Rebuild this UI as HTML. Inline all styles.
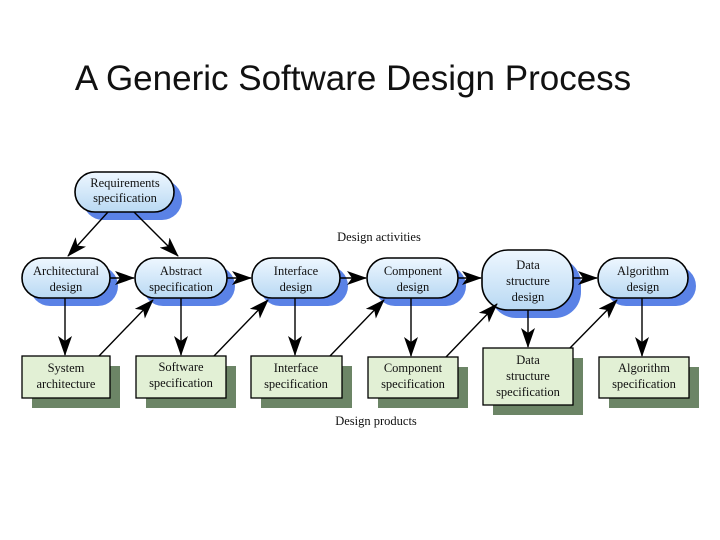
<!DOCTYPE html>
<html><head><meta charset="utf-8"><style>
html,body{margin:0;padding:0;background:#fff;width:720px;height:540px;overflow:hidden}
svg{display:block}
.t{font-family:"Liberation Serif",serif;font-size:12.5px;fill:#111;text-anchor:middle}
</style></head><body>
<svg width="720" height="540" viewBox="0 0 720 540" xmlns="http://www.w3.org/2000/svg">
<defs>
<linearGradient id="bg" x1="0" y1="0" x2="0" y2="1"><stop offset="0" stop-color="#eef7ff"/><stop offset="1" stop-color="#b9d9f3"/></linearGradient>
<marker id="A" markerWidth="20" markerHeight="14" refX="19" refY="7" orient="auto" markerUnits="userSpaceOnUse" viewBox="0 0 20 14"><path d="M0,0 L20,7 L0,14 L5,7 z" fill="#000"/></marker>
</defs>
<text x="353" y="90" font-family="Liberation Sans,sans-serif" font-size="35" text-anchor="middle" fill="#111">A Generic Software Design Process</text>

<g fill="#5a82e6">
<rect x="83" y="180" width="99" height="40" rx="20"/>
<rect x="30" y="266" width="88" height="40" rx="20"/>
<rect x="143" y="266" width="92" height="40" rx="20"/>
<rect x="260" y="266" width="88" height="40" rx="20"/>
<rect x="375" y="266" width="91" height="40" rx="20"/>
<rect x="490" y="258" width="91" height="60" rx="26"/>
<rect x="606" y="266" width="90" height="40" rx="20"/>
</g>
<g fill="url(#bg)" stroke="#000" stroke-width="1.6">
<rect x="75" y="172" width="99" height="40" rx="20"/>
<rect x="22" y="258" width="88" height="40" rx="20"/>
<rect x="135" y="258" width="92" height="40" rx="20"/>
<rect x="252" y="258" width="88" height="40" rx="20"/>
<rect x="367" y="258" width="91" height="40" rx="20"/>
<rect x="482" y="250" width="91" height="60" rx="26"/>
<rect x="598" y="258" width="90" height="40" rx="20"/>
</g>
<g fill="#6c8566">
<rect x="32" y="366" width="88" height="42"/>
<rect x="146" y="366" width="90" height="42"/>
<rect x="261" y="366" width="91" height="42"/>
<rect x="378" y="367" width="90" height="41"/>
<rect x="493" y="358" width="90" height="57"/>
<rect x="609" y="367" width="90" height="41"/>
</g>
<g fill="#e2f0d5" stroke="#000" stroke-width="1.3">
<rect x="22" y="356" width="88" height="42"/>
<rect x="136" y="356" width="90" height="42"/>
<rect x="251" y="356" width="91" height="42"/>
<rect x="368" y="357" width="90" height="41"/>
<rect x="483" y="348" width="90" height="57"/>
<rect x="599" y="357" width="90" height="41"/>
</g>

<g stroke="#000" stroke-width="1.4" fill="none">
<line x1="108" y1="212" x2="68" y2="256" marker-end="url(#A)"/>
<line x1="134" y1="212" x2="178" y2="256" marker-end="url(#A)"/>
<line x1="110" y1="278" x2="134" y2="278" marker-end="url(#A)"/>
<line x1="227" y1="278" x2="251" y2="278" marker-end="url(#A)"/>
<line x1="340" y1="278" x2="366" y2="278" marker-end="url(#A)"/>
<line x1="458" y1="278" x2="481" y2="278" marker-end="url(#A)"/>
<line x1="573" y1="278" x2="597" y2="278" marker-end="url(#A)"/>
<line x1="65" y1="298" x2="65" y2="355" marker-end="url(#A)"/>
<line x1="181" y1="298" x2="181" y2="355" marker-end="url(#A)"/>
<line x1="295" y1="298" x2="295" y2="355" marker-end="url(#A)"/>
<line x1="411" y1="298" x2="411" y2="356" marker-end="url(#A)"/>
<line x1="528" y1="310" x2="528" y2="347" marker-end="url(#A)"/>
<line x1="642" y1="298" x2="642" y2="356" marker-end="url(#A)"/>
<line x1="99" y1="356" x2="153" y2="300" marker-end="url(#A)"/>
<line x1="214" y1="356" x2="268" y2="300" marker-end="url(#A)"/>
<line x1="330" y1="356" x2="384" y2="300" marker-end="url(#A)"/>
<line x1="446" y1="357" x2="497" y2="304" marker-end="url(#A)"/>
<line x1="570" y1="348" x2="617" y2="300" marker-end="url(#A)"/>
</g>

<g class="t">
<text x="125" y="187" class="t">Requirements</text><text x="125" y="202" class="t">specification</text>
<text x="66" y="275" class="t">Architectural</text><text x="66" y="291" class="t">design</text>
<text x="181" y="275" class="t">Abstract</text><text x="181" y="291" class="t">specification</text>
<text x="296" y="275" class="t">Interface</text><text x="296" y="291" class="t">design</text>
<text x="413" y="275" class="t">Component</text><text x="413" y="291" class="t">design</text>
<text x="528" y="269" class="t">Data</text><text x="528" y="285" class="t">structure</text><text x="528" y="301" class="t">design</text>
<text x="643" y="275" class="t">Algorithm</text><text x="643" y="291" class="t">design</text>
<text x="66" y="372" class="t">System</text><text x="66" y="388" class="t">architecture</text>
<text x="181" y="371" class="t">Software</text><text x="181" y="387" class="t">specification</text>
<text x="296" y="372" class="t">Interface</text><text x="296" y="388" class="t">specification</text>
<text x="413" y="372" class="t">Component</text><text x="413" y="388" class="t">specification</text>
<text x="528" y="364" class="t">Data</text><text x="528" y="380" class="t">structure</text><text x="528" y="396" class="t">specification</text>
<text x="644" y="372" class="t">Algorithm</text><text x="644" y="388" class="t">specification</text>
<text x="379" y="241" class="t">Design activities</text>
<text x="376" y="425" class="t">Design products</text>
</g>
</svg>
</body></html>
